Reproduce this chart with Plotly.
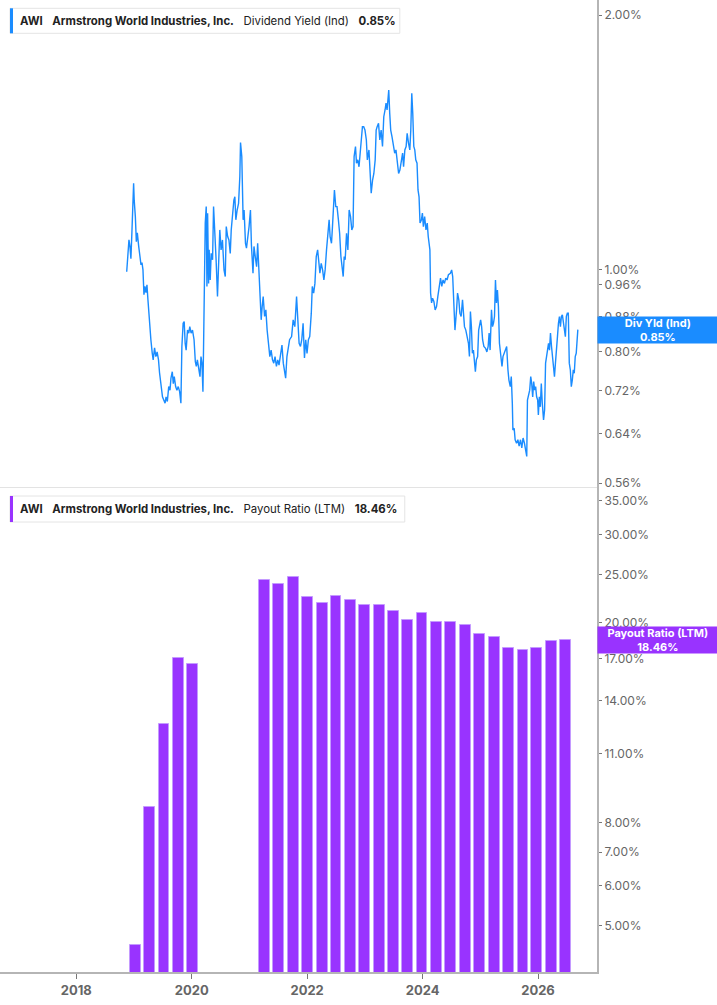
import math
import plotly.graph_objects as go
from plotly.subplots import make_subplots

# Dividend yield (Ind), % -- dates as decimal years
div_dates = [
    2018.874, 2018.896, 2018.913, 2018.930, 2018.947, 2018.964, 2018.976, 2018.994, 2019.004, 2019.024,
    2019.041, 2019.058, 2019.082, 2019.105, 2019.122, 2019.139, 2019.156, 2019.173, 2019.190, 2019.208,
    2019.225, 2019.242, 2019.264, 2019.293, 2019.316, 2019.333, 2019.357, 2019.379, 2019.401, 2019.425,
    2019.443, 2019.460, 2019.477, 2019.494, 2019.516, 2019.539, 2019.556, 2019.578, 2019.602, 2019.624,
    2019.641, 2019.664, 2019.681, 2019.698, 2019.722, 2019.744, 2019.767, 2019.791, 2019.813, 2019.830,
    2019.852, 2019.870, 2019.887, 2019.904, 2019.928, 2019.950, 2019.967, 2019.990, 2020.014, 2020.041,
    2020.063, 2020.080, 2020.098, 2020.122, 2020.144, 2020.161, 2020.178, 2020.195, 2020.212, 2020.224,
    2020.235, 2020.252, 2020.264, 2020.276, 2020.293, 2020.303, 2020.321, 2020.338, 2020.362, 2020.379,
    2020.401, 2020.423, 2020.447, 2020.470, 2020.487, 2020.509, 2020.533, 2020.560, 2020.582, 2020.599,
    2020.623, 2020.645, 2020.668, 2020.685, 2020.709, 2020.731, 2020.748, 2020.765, 2020.788, 2020.812,
    2020.834, 2020.846, 2020.868, 2020.891, 2020.908, 2020.932, 2020.949, 2020.971, 2020.994, 2021.018,
    2021.035, 2021.062, 2021.079, 2021.101, 2021.125, 2021.143, 2021.165, 2021.182, 2021.204, 2021.221,
    2021.239, 2021.263, 2021.285, 2021.307, 2021.331, 2021.354, 2021.376, 2021.400, 2021.422, 2021.444,
    2021.468, 2021.491, 2021.513, 2021.537, 2021.564, 2021.587, 2021.611, 2021.628, 2021.650, 2021.672,
    2021.696, 2021.731, 2021.758, 2021.787, 2021.817, 2021.839, 2021.861, 2021.885, 2021.907, 2021.930,
    2021.954, 2021.976, 2021.998, 2022.022, 2022.045, 2022.072, 2022.089, 2022.113, 2022.135, 2022.158,
    2022.182, 2022.199, 2022.221, 2022.244, 2022.268, 2022.290, 2022.312, 2022.336, 2022.358, 2022.381,
    2022.398, 2022.422, 2022.439, 2022.456, 2022.473, 2022.496, 2022.518, 2022.542, 2022.563, 2022.585,
    2022.608, 2022.625, 2022.642, 2022.659, 2022.683, 2022.706, 2022.728, 2022.752, 2022.774, 2022.796,
    2022.814, 2022.838, 2022.855, 2022.877, 2022.899, 2022.917, 2022.934, 2022.958, 2022.980, 2023.002,
    2023.026, 2023.043, 2023.071, 2023.093, 2023.110, 2023.134, 2023.156, 2023.179, 2023.196, 2023.213,
    2023.237, 2023.259, 2023.282, 2023.306, 2023.328, 2023.350, 2023.367, 2023.385, 2023.402, 2023.414,
    2023.431, 2023.448, 2023.470, 2023.494, 2023.517, 2023.539, 2023.556, 2023.585, 2023.607, 2023.630,
    2023.654, 2023.671, 2023.693, 2023.715, 2023.733, 2023.757, 2023.779, 2023.796, 2023.813, 2023.830,
    2023.848, 2023.865, 2023.882, 2023.904, 2023.921, 2023.939, 2023.956, 2023.980, 2023.997, 2024.014,
    2024.036, 2024.059, 2024.081, 2024.098, 2024.115, 2024.127, 2024.139, 2024.156, 2024.173, 2024.196,
    2024.218, 2024.242, 2024.264, 2024.287, 2024.311, 2024.333, 2024.355, 2024.379, 2024.401, 2024.424,
    2024.448, 2024.482, 2024.504, 2024.522, 2024.539, 2024.561, 2024.589, 2024.606, 2024.628, 2024.646,
    2024.668, 2024.692, 2024.709, 2024.726, 2024.749, 2024.771, 2024.795, 2024.812, 2024.829, 2024.846,
    2024.863, 2024.881, 2024.898, 2024.915, 2024.932, 2024.954, 2024.972, 2024.989, 2025.006, 2025.023,
    2025.040, 2025.062, 2025.091, 2025.114, 2025.136, 2025.153, 2025.170, 2025.194, 2025.212, 2025.229,
    2025.246, 2025.263, 2025.280, 2025.297, 2025.314, 2025.332, 2025.354, 2025.376, 2025.393, 2025.417,
    2025.440, 2025.457, 2025.479, 2025.496, 2025.520, 2025.537, 2025.555, 2025.565, 2025.587, 2025.604,
    2025.628, 2025.651, 2025.673, 2025.697, 2025.719, 2025.741, 2025.765, 2025.788, 2025.805, 2025.817,
    2025.839, 2025.856, 2025.874, 2025.891, 2025.908, 2025.925, 2025.942, 2025.959, 2025.976, 2025.994,
    2026.006, 2026.023, 2026.040, 2026.057, 2026.074, 2026.096, 2026.114, 2026.131, 2026.148, 2026.165,
    2026.182, 2026.199, 2026.216, 2026.234, 2026.251, 2026.268, 2026.285, 2026.302, 2026.319, 2026.337,
    2026.354, 2026.371, 2026.388, 2026.405, 2026.422, 2026.439, 2026.457, 2026.474, 2026.491, 2026.508,
    2026.525, 2026.542, 2026.560, 2026.577, 2026.594, 2026.611, 2026.628, 2026.645, 2026.662, 2026.680,
    2026.690,
]
div_yield = [
    0.995, 1.056, 1.085, 1.066, 1.031, 1.106, 1.156, 1.266, 1.209, 1.156,
    1.080, 1.106, 1.066, 1.028, 1.014, 1.020, 1.000, 0.935, 0.956, 0.940,
    0.960, 0.922, 0.866, 0.827, 0.798, 0.783, 0.809, 0.790, 0.800, 0.783,
    0.756, 0.741, 0.718, 0.708, 0.702, 0.696, 0.708, 0.699, 0.728, 0.721,
    0.745, 0.758, 0.734, 0.748, 0.728, 0.721, 0.728, 0.718, 0.696, 0.812,
    0.865, 0.869, 0.819, 0.804, 0.849, 0.842, 0.857, 0.842, 0.849, 0.827,
    0.779, 0.769, 0.783, 0.762, 0.748, 0.790, 0.776, 0.718, 0.914, 0.973,
    1.136, 1.188, 0.956, 1.167, 0.964, 1.056, 0.973, 1.046, 1.028, 1.188,
    1.115, 1.028, 0.930, 1.046, 1.115, 1.056, 1.085, 1.000, 0.982, 1.125,
    1.095, 1.085, 1.046, 1.115, 1.167, 1.209, 1.220, 1.146, 1.177, 1.198,
    1.289, 1.414, 1.361, 1.146, 1.177, 1.075, 1.061, 1.085, 1.125, 1.177,
    1.070, 0.991, 1.066, 1.037, 1.009, 1.075, 0.991, 0.939, 0.873, 0.905,
    0.930, 0.881, 0.897, 0.849, 0.819, 0.790, 0.804, 0.783, 0.776, 0.790,
    0.769, 0.783, 0.772, 0.797, 0.815, 0.776, 0.762, 0.745, 0.790, 0.804,
    0.827, 0.834, 0.873, 0.857, 0.930, 0.873, 0.819, 0.812, 0.827, 0.865,
    0.787, 0.827, 0.797, 0.827, 0.834, 0.889, 0.956, 0.939, 0.964, 1.037,
    1.056, 1.028, 0.991, 1.018, 1.000, 0.973, 1.000, 1.056, 1.105, 1.146,
    1.095, 1.075, 1.125, 1.177, 1.243, 1.188, 1.188, 1.146, 1.105, 1.037,
    1.009, 0.982, 1.037, 1.028, 1.105, 1.056, 1.177, 1.156, 1.115, 1.125,
    1.361, 1.399, 1.337, 1.349, 1.324, 1.374, 1.424, 1.476, 1.476, 1.463,
    1.424, 1.349, 1.386, 1.300, 1.232, 1.277, 1.300, 1.349, 1.463, 1.476,
    1.490, 1.424, 1.463, 1.399, 1.517, 1.545, 1.574, 1.545, 1.602, 1.631,
    1.531, 1.463, 1.437, 1.399, 1.374, 1.386, 1.349, 1.300, 1.312, 1.349,
    1.374, 1.324, 1.386, 1.399, 1.450, 1.411, 1.386, 1.463, 1.617, 1.531,
    1.399, 1.386, 1.349, 1.337, 1.243, 1.220, 1.136, 1.146, 1.167, 1.125,
    1.156, 1.115, 1.136, 1.095, 1.075, 1.056, 0.939, 0.914, 0.926, 0.918,
    0.897, 0.905, 0.930, 0.956, 0.978, 0.956, 0.973, 0.964, 0.978, 0.973,
    0.987, 0.991, 1.000, 0.982, 0.905, 0.849, 0.897, 0.939, 0.922, 0.889,
    0.881, 0.922, 0.889, 0.857, 0.849, 0.834, 0.819, 0.790, 0.893, 0.857,
    0.797, 0.804, 0.776, 0.758, 0.783, 0.790, 0.849, 0.865, 0.873, 0.857,
    0.827, 0.812, 0.808, 0.800, 0.812, 0.842, 0.804, 0.897, 0.857, 0.865,
    0.881, 0.973, 0.914, 0.947, 0.905, 0.819, 0.790, 0.769, 0.790, 0.797,
    0.804, 0.812, 0.762, 0.741, 0.728, 0.748, 0.696, 0.647, 0.650, 0.630,
    0.624, 0.630, 0.619, 0.630, 0.616, 0.633, 0.624, 0.613, 0.602, 0.702,
    0.715, 0.721, 0.748, 0.734, 0.708, 0.738, 0.721, 0.728, 0.708, 0.702,
    0.674, 0.708, 0.689, 0.734, 0.696, 0.665, 0.683, 0.776, 0.790, 0.812,
    0.819, 0.804, 0.842, 0.812, 0.790, 0.762, 0.748, 0.776, 0.819, 0.834,
    0.865, 0.881, 0.857, 0.881, 0.885, 0.865, 0.857, 0.834, 0.881, 0.889,
    0.889, 0.776, 0.762, 0.728, 0.741, 0.762, 0.755, 0.790, 0.797, 0.834,
    0.850,
]

# Payout ratio (LTM), % -- quarterly
payout_dates = [
    2019.02, 2019.27, 2019.52, 2019.77, 2020.02,
    2021.26, 2021.51, 2021.76, 2022.01, 2022.26, 2022.50, 2022.75, 2023.00,
    2023.25, 2023.50, 2023.74, 2023.99, 2024.24, 2024.49, 2024.74, 2024.99,
    2025.24, 2025.49, 2025.74, 2025.98, 2026.23, 2026.48,
]
payout = [
    4.58, 8.61, 12.6, 17.05, 16.54,
    24.37, 23.92, 24.67, 22.51, 21.90, 22.65, 22.20, 21.74,
    21.74, 21.12, 20.29, 20.92, 20.08, 20.08, 19.81, 19.03,
    18.80, 17.83, 17.67, 17.83, 18.41, 18.46,
]

yield_ticks = [0.56, 0.64, 0.72, 0.80, 0.88, 0.96, 1.00, 2.00]
payout_ticks = [5, 6, 7, 8, 11, 14, 17, 20, 25, 30, 35]
year_ticks = [2018, 2020, 2022, 2024, 2026]

BLUE = "#1a8cff"
PURPLE = "#9933ff"
FONT = "Inter"

fig = make_subplots(rows=2, cols=1, shared_xaxes=True, vertical_spacing=0)

fig.add_trace(go.Scatter(x=div_dates, y=div_yield, mode="lines",
                         line=dict(color=BLUE, width=1.4), showlegend=False), row=1, col=1)
fig.add_trace(go.Bar(x=payout_dates, y=payout, width=0.19,
                     marker=dict(color=PURPLE, line=dict(color="#c49aff", width=1)),
                     showlegend=False), row=2, col=1)

W, H = 717, 1005
PW, PH = 597.3, 972  # plot area in px
split = 1 - 487 / PH

axis_common = dict(side="right", type="log", showgrid=False, zeroline=False,
                   showline=True, linecolor="#b5b5b5", linewidth=2,
                   ticks="outside", ticklen=3, tickcolor="#777",
                   tickfont=dict(family=FONT, size=12, color="#666"))

fig.update_layout(
    width=W, height=H,
    margin=dict(l=0, r=W - PW, t=0, b=H - PH),
    paper_bgcolor="white", plot_bgcolor="white",
    bargap=0,
    xaxis=dict(domain=[0, 1], range=[2016.679, 2027.022], showticklabels=False,
               showgrid=False, zeroline=False, showline=True, linecolor="#e3e3e3",
               linewidth=1, ticks=""),
    xaxis2=dict(domain=[0, 1], range=[2016.679, 2027.022], showgrid=False, zeroline=False,
                showline=True, linecolor="#b5b5b5", linewidth=2,
                ticks="outside", ticklen=5, tickcolor="#777",
                tickvals=year_ticks, ticktext=[str(y) for y in year_ticks],
                tickfont=dict(family=FONT, size=13, color="#666", weight="bold")),
    yaxis=dict(domain=[split, 1], range=[math.log10(0.554), math.log10(2.084)],
               tickvals=yield_ticks, ticktext=[f"{v:.2f}%" for v in yield_ticks],
               **axis_common),
    yaxis2=dict(domain=[0, split], range=[math.log10(4.04), math.log10(37.3)],
                tickvals=payout_ticks, ticktext=[f"{v:.2f}%" for v in payout_ticks],
                **axis_common),
)


def px_x(p):
    return p / PW


def px_y(p):
    return 1 - p / PH


# title boxes in the top-left of each panel
boxes = [
    (8.3, 33.3, 400, BLUE, "Dividend Yield (Ind)", f"{div_yield[-1]:.2f}%"),
    (496, 522, 405, PURPLE, "Payout Ratio (LTM)", f"{payout[-1]:.2f}%"),
]
sp = "\u00a0\u00a0\u00a0"
for top, bottom, right, color, metric, last in boxes:
    fig.add_shape(type="rect", xref="paper", yref="paper",
                  x0=px_x(10), x1=px_x(right), y0=px_y(bottom), y1=px_y(top),
                  fillcolor="white", line=dict(color="#e4e4e4", width=1))
    fig.add_shape(type="rect", xref="paper", yref="paper",
                  x0=px_x(10), x1=px_x(13), y0=px_y(bottom), y1=px_y(top),
                  fillcolor=color, line=dict(width=0))
    fig.add_annotation(xref="paper", yref="paper", x=px_x(18), y=px_y((top + bottom) / 2),
                       xanchor="left", yanchor="middle", showarrow=False,
                       text=f"<b>AWI</b>{sp}<b>Armstrong World Industries, Inc.</b>{sp}{metric}{sp}<b>{last}</b>",
                       font=dict(family=FONT, size=11.4, color="#222"))

# last-value tags on the right axis
tags = [
    ("y", div_yield[-1], BLUE, "Div Yld (Ind)"),
    ("y2", payout[-1], PURPLE, "Payout Ratio (LTM)"),
]
for yref, val, color, name in tags:
    fig.add_annotation(xref="paper", yref=yref, x=1, y=math.log10(val),
                       xanchor="left", yanchor="middle", showarrow=False,
                       text=f"<b>{name}</b><br><b>{val:.2f}%</b>",
                       width=W - PW - 2, height=24, borderpad=1, bgcolor=color,
                       font=dict(family=FONT, size=11, color="white"))

# the page puts the chart at the very top-left corner, like the reference
fig.write_html("out.html", config={"displayModeBar": False},
               post_script="document.body.style.margin='0';")
